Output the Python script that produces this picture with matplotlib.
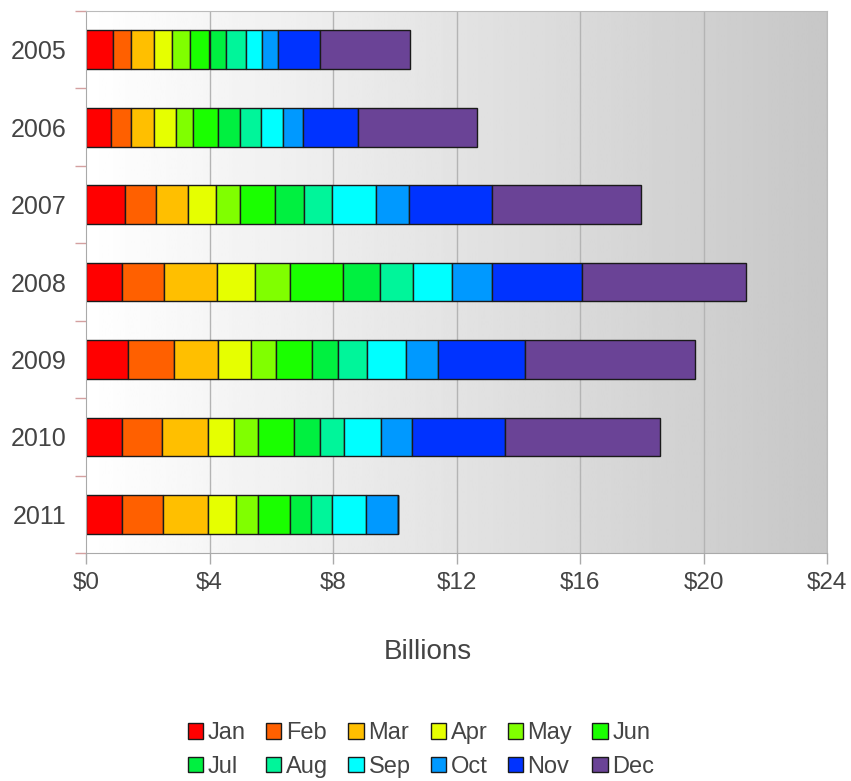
import numpy as np
import matplotlib.pyplot as plt

plt.rcParams['font.family'] = ['Liberation Sans', 'DejaVu Sans']

years = ['2005', '2006', '2007', '2008', '2009', '2010', '2011']
months = ['Jan', 'Feb', 'Mar', 'Apr', 'May', 'Jun',
          'Jul', 'Aug', 'Sep', 'Oct', 'Nov', 'Dec']
colors = ['#ff0000', '#ff6000', '#ffbf00', '#e6ff00', '#80ff00', '#1aff00',
          '#00f040', '#00f59a', '#00ffff', '#0099ff', '#0033ff', '#6a4396']

# monthly values in billions, one list per year
v2005 = [0.86, 0.60, 0.74, 0.58, 0.59, 0.63, 0.55, 0.63, 0.51, 0.52, 1.37, 2.91]
v2006 = [0.80, 0.65, 0.75, 0.72, 0.53, 0.82, 0.72, 0.67, 0.73, 0.65, 1.78, 3.83]
v2007 = [1.27, 1.01, 1.03, 0.89, 0.79, 1.12, 0.96, 0.91, 1.40, 1.08, 2.69, 4.81]
v2008 = [1.17, 1.35, 1.71, 1.24, 1.15, 1.69, 1.22, 1.05, 1.26, 1.31, 2.92, 5.32]
v2009 = [1.37, 1.47, 1.43, 1.07, 0.82, 1.17, 0.84, 0.92, 1.28, 1.02, 2.84, 5.48]
v2010 = [1.17, 1.30, 1.49, 0.84, 0.77, 1.18, 0.84, 0.77, 1.18, 1.03, 3.00, 5.02]
v2011 = [1.16, 1.32, 1.47, 0.90, 0.71, 1.05, 0.68, 0.69, 1.09, 1.04]

rows = [v2005, v2006, v2007, v2008, v2009, v2010, v2011]
xticks = [0, 4, 8, 12, 16, 20, 24]

fig = plt.figure(figsize=(8.51, 7.81), dpi=100)
ax = fig.add_axes([86 / 851, 1 - 553 / 781, (827 - 86) / 851, (553 - 11) / 781])

# background gradient white -> gray
grad = np.linspace(1.0, 0.78, 256).reshape(1, -1)
ax.imshow(grad, cmap='gray', vmin=0, vmax=1, aspect='auto',
          extent=[0, 24, 6.5, -0.5], zorder=0)

for x in xticks[1:]:
    ax.axvline(x, color='#b4b4b4', lw=1, zorder=1)

y = np.arange(len(years))
handles = []
for m in range(12):
    w = np.array([r[m] if m < len(r) else 0 for r in rows])
    left = np.array([sum(r[:m]) for r in rows])
    b = ax.barh(y, w, left=left, height=0.5, color=colors[m],
                edgecolor='#1a1a1a', linewidth=1, label=months[m], zorder=2)
    handles.append(b)

ax.set_xlim(0, 24)
ax.set_ylim(6.5, -0.5)
ax.set_xticks(xticks)
ax.set_xticklabels(['$' + str(x) for x in xticks])
ax.set_yticks(y)
ax.set_yticklabels(years)
ax.set_yticks(np.arange(-0.5, 7, 1), minor=True)

ax.tick_params(axis='x', length=8, color='#aaaaaa', width=1, pad=6,
               labelsize=17.5, labelcolor='#444444')
ax.tick_params(axis='y', which='major', length=0, pad=14,
               labelsize=18, labelcolor='#444444')
ax.tick_params(axis='y', which='minor', length=8, color='#d4a0a0', width=1)

for s in ['left', 'bottom']:
    ax.spines[s].set_color('#aaaaaa')
for s in ['top', 'right']:
    ax.spines[s].set_color('#bbbbbb')

fig.text(0.503, 1 - 652 / 781, 'Billions', ha='center', va='center',
         fontsize=20, color='#444444')

# legend filled row by row: Jan..Jun on top, Jul..Dec below
order = [0, 6, 1, 7, 2, 8, 3, 9, 4, 10, 5, 11]
fig.legend([handles[i] for i in order], [months[i] for i in order],
           loc='center', bbox_to_anchor=(0.495, 1 - 750 / 781), ncol=6,
           frameon=False, fontsize=17, handlelength=0.65, handleheight=0.65,
           handletextpad=0.2, columnspacing=0.85, labelspacing=0.5,
           labelcolor='#444444')

fig.savefig('out.png', dpi=100)
